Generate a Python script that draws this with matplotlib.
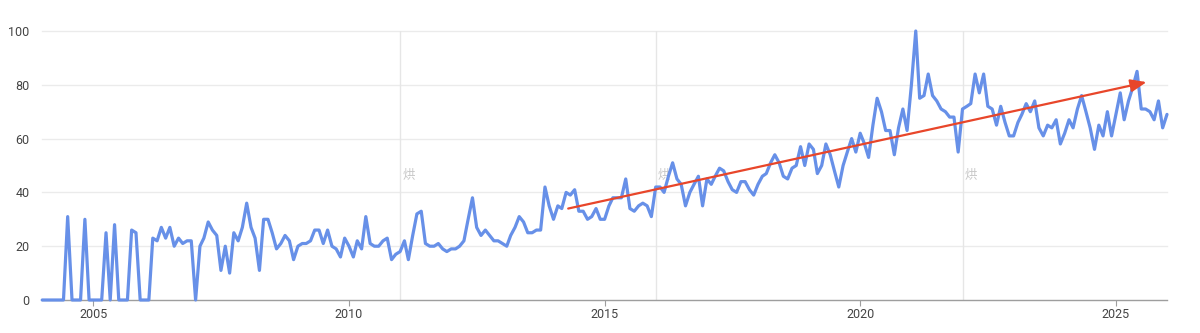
import matplotlib
matplotlib.use("Agg")
import matplotlib.pyplot as plt
import pandas as pd

# ---- data (monthly interest, Jan 2004 .. Jan 2026) ----
v2004 = [0, 0, 0, 0, 0, 0, 31, 0, 0, 0, 30, 0]
v2005 = [0, 0, 0, 25, 0, 28, 0, 0, 0, 26, 25, 0]
v2006 = [0, 0, 23, 22, 27, 23, 27, 20, 23, 21, 22, 22]
v2007 = [0, 20, 23, 29, 26, 24, 11, 20, 10, 25, 22, 27]
v2008 = [36, 27, 23, 11, 30, 30, 25, 19, 21, 24, 22, 15]
v2009 = [20, 21, 21, 22, 26, 26, 21, 26, 20, 19, 16, 23]
v2010 = [20, 16, 22, 19, 31, 21, 20, 20, 22, 23, 15, 17]
v2011 = [18, 22, 15, 24, 32, 33, 21, 20, 20, 21, 19, 18]
v2012 = [19, 19, 20, 22, 30, 38, 27, 24, 26, 24, 22, 22]
v2013 = [21, 20, 24, 27, 31, 29, 25, 25, 26, 26, 42, 35]
v2014 = [30, 35, 34, 40, 39, 41, 33, 33, 30, 31, 34, 30]
v2015 = [30, 35, 38, 38, 38, 45, 34, 33, 35, 36, 35, 31]
v2016 = [42, 42, 40, 46, 51, 45, 43, 35, 40, 43, 46, 35]
v2017 = [45, 43, 46, 49, 48, 44, 41, 40, 44, 44, 41, 39]
v2018 = [43, 46, 47, 51, 54, 51, 46, 45, 49, 50, 57, 50]
v2019 = [58, 56, 47, 50, 58, 54, 48, 42, 50, 55, 60, 55]
v2020 = [62, 58, 53, 65, 75, 70, 63, 63, 54, 64, 71, 63]
v2021 = [80, 100, 75, 76, 84, 76, 74, 71, 70, 68, 68, 55]
v2022 = [71, 72, 73, 84, 77, 84, 72, 71, 65, 72, 66, 61]
v2023 = [61, 66, 69, 73, 70, 74, 64, 61, 65, 64, 67, 58]
v2024 = [62, 67, 64, 71, 76, 70, 64, 56, 65, 61, 70, 61]
v2025 = [69, 77, 67, 74, 79, 85, 71, 71, 70, 67, 74, 64]
v2026 = [69]

interest = (v2004 + v2005 + v2006 + v2007 + v2008 + v2009 + v2010 + v2011 +
            v2012 + v2013 + v2014 + v2015 + v2016 + v2017 + v2018 + v2019 +
            v2020 + v2021 + v2022 + v2023 + v2024 + v2025 + v2026)
dates = pd.date_range("2004-01-01", periods=len(interest), freq="MS")

note_dates = ["2011-01-01", "2016-01-01", "2022-01-01"]
note_label = "烘"

trend_dates = ["2014-04-16", "2025-08-08"]
trend_values = [34, 81]

y_ticks = [0, 20, 40, 60, 80, 100]
x_tick_years = [2005, 2010, 2015, 2020, 2025]

# ---- figure ----
plt.rcParams['font.family'] = ['Roboto', 'Noto Sans CJK SC', 'DejaVu Sans']
fig = plt.figure(figsize=(12, 3.33), dpi=100)
ax = fig.add_axes([42.2 / 1200, 33 / 333, (1167 - 42.2) / 1200, 269 / 333])

ax.set_xlim(pd.Timestamp("2004-01-01"), pd.Timestamp("2026-01-01"))
ax.set_ylim(0, 100)

# grid
for yv in y_ticks[1:]:
    ax.axhline(yv, color="#ebebeb", lw=1.0, zorder=0, clip_on=False)
for nd in note_dates:
    ax.axvline(pd.Timestamp(nd), color="#e6e6e6", lw=1.0, zorder=0)
    ax.text(pd.Timestamp(nd) + pd.Timedelta(days=60), 46.5, note_label,
            color="#c8c8c8", fontsize=9, ha="center", va="center",
            family=['Noto Sans CJK SC', 'DejaVu Sans'], zorder=1)

ax.plot(dates, interest, color="#6790e8", lw=2.3, solid_joinstyle="round",
        solid_capstyle="round", clip_on=False, zorder=3)

ax.annotate("", xy=(pd.Timestamp(trend_dates[1]), trend_values[1]),
            xytext=(pd.Timestamp(trend_dates[0]), trend_values[0]),
            arrowprops=dict(arrowstyle="-|>,head_length=0.95,head_width=0.38",
                            color="#e8462a", lw=1.6, shrinkA=0, shrinkB=0),
            zorder=4)

for s in ["top", "right", "left"]:
    ax.spines[s].set_visible(False)
ax.spines["bottom"].set_color("#9e9e9e")
ax.spines["bottom"].set_linewidth(1.0)

ax.set_yticks(y_ticks)
ax.set_yticklabels([str(v) for v in y_ticks])
ax.tick_params(axis="y", length=0, pad=9, labelsize=9, labelcolor="#444444")
ax.set_xticks([pd.Timestamp(f"{y}-01-01") for y in x_tick_years])
ax.set_xticklabels([str(y) for y in x_tick_years])
ax.tick_params(axis="x", length=4, width=0.8, color="#9e9e9e", pad=2,
               labelsize=9, labelcolor="#444444")

fig.savefig("out.png", dpi=100, facecolor="white")
